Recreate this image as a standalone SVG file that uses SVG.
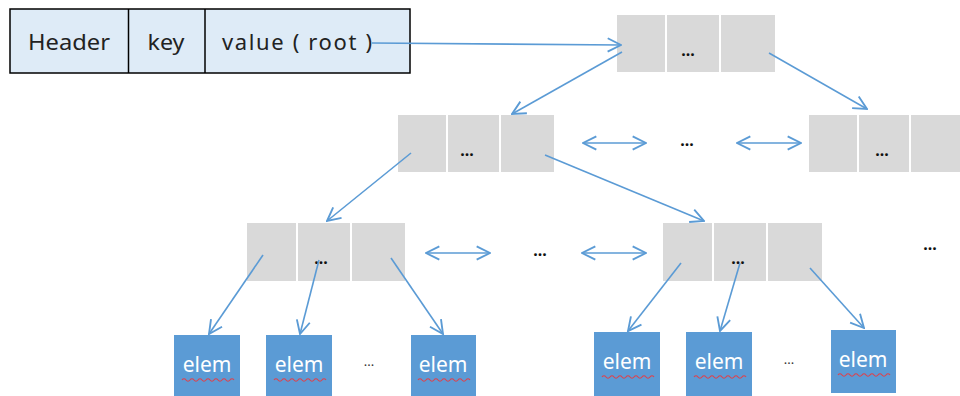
<svg xmlns="http://www.w3.org/2000/svg" width="960" height="396" viewBox="0 0 960 396">
  <style>
    .hdr { fill: #DEEBF7; stroke: #000; stroke-width: 1.5; }
    .hdr-div { stroke: #000; stroke-width: 1.5; }
    .cell { fill: #D9D9D9; }
    .div { stroke: #fff; stroke-width: 2; }
    .elem { fill: #5B9BD5; }
    .t { font-family: "Noto Sans", "Open Sans", sans-serif; font-size: 22px; fill: #222; text-anchor: middle; }
    .dots { font-family: "Noto Sans", sans-serif; font-size: 16px; font-weight: bold; fill: #111; text-anchor: middle; }
    .dots-s { font-family: "Noto Sans", sans-serif; font-size: 13px; fill: #333; text-anchor: middle; }
    .et { font-family: "Noto Sans", sans-serif; font-size: 21px; fill: #fff; text-anchor: middle; }
    .squig { fill: none; stroke: #E0404A; stroke-width: 1.2; }
    .link { fill: none; stroke: #5B9BD5; stroke-width: 1.6; }
  </style>
  <defs>
    <marker id="arr" viewBox="0 0 12 12" refX="11" refY="6" markerWidth="16" markerHeight="16" markerUnits="userSpaceOnUse" orient="auto-start-reverse">
      <path d="M1,1 L11,6 L1,11" fill="none" stroke="#5B9BD5" stroke-width="1.4"/>
    </marker>
    <path id="wave" d="M0,0 q2,-2.5 4,0 t4,0 t4,0 t4,0 t4,0 t4,0 t4,0 t4,0 t4,0 t4,0 t4,0 t4,0 t4,0"/>
  </defs>

  <!-- header record -->
  <g id="header">
    <rect class="hdr" x="10" y="9" width="400" height="64"/>
    <line class="hdr-div" x1="128.5" y1="9" x2="128.5" y2="73"/>
    <line class="hdr-div" x1="205" y1="9" x2="205" y2="73"/>
    <text class="t" x="69" y="50" textLength="82" lengthAdjust="spacingAndGlyphs">Header</text>
    <text class="t" x="166" y="50" textLength="37" lengthAdjust="spacingAndGlyphs">key</text>
    <text class="t" x="297" y="50" textLength="150" lengthAdjust="spacing">value ( root )</text>
  </g>

  <!-- root node -->
  <g id="root">
    <rect class="cell" x="617" y="15" width="158" height="57"/>
    <line class="div" x1="666" y1="15" x2="666" y2="72"/>
    <line class="div" x1="720" y1="15" x2="720" y2="72"/>
    <text class="dots" x="688" y="56">...</text>
  </g>

  <!-- level 2 -->
  <g id="n2a">
    <rect class="cell" x="398" y="115" width="156" height="57"/>
    <line class="div" x1="447" y1="115" x2="447" y2="172"/>
    <line class="div" x1="500" y1="115" x2="500" y2="172"/>
    <text class="dots" x="467" y="156">...</text>
  </g>
  <g id="n2b">
    <rect class="cell" x="809" y="115" width="160" height="57"/>
    <line class="div" x1="858" y1="115" x2="858" y2="172"/>
    <line class="div" x1="910" y1="115" x2="910" y2="172"/>
    <text class="dots" x="882" y="156">...</text>
  </g>
  <text class="dots" x="687" y="146">...</text>

  <!-- level 3 -->
  <g id="n3a">
    <rect class="cell" x="247" y="223" width="158" height="58"/>
    <line class="div" x1="297" y1="223" x2="297" y2="281"/>
    <line class="div" x1="351" y1="223" x2="351" y2="281"/>
    <text class="dots" x="321" y="264">...</text>
  </g>
  <g id="n3b">
    <rect class="cell" x="663" y="223" width="159" height="58"/>
    <line class="div" x1="713" y1="223" x2="713" y2="281"/>
    <line class="div" x1="767" y1="223" x2="767" y2="281"/>
    <text class="dots" x="738" y="264">...</text>
  </g>
  <text class="dots" x="540" y="256">...</text>
  <text class="dots" x="930" y="250">...</text>

  <!-- leaf elements -->
  <g id="e1">
    <rect class="elem" x="174" y="335" width="66" height="61"/>
    <text class="et" x="207" y="372">elem</text>
    <use href="#wave" class="squig" x="182" y="380"/>
  </g>
  <g id="e2">
    <rect class="elem" x="266" y="335" width="66" height="61"/>
    <text class="et" x="299" y="372">elem</text>
    <use href="#wave" class="squig" x="274" y="380"/>
  </g>
  <text class="dots-s" x="369" y="366">...</text>
  <g id="e3">
    <rect class="elem" x="411" y="335" width="65" height="61"/>
    <text class="et" x="443" y="372">elem</text>
    <use href="#wave" class="squig" x="418" y="380"/>
  </g>
  <g id="e4">
    <rect class="elem" x="594" y="332" width="66" height="64"/>
    <text class="et" x="627" y="369">elem</text>
    <use href="#wave" class="squig" x="602" y="377"/>
  </g>
  <g id="e5">
    <rect class="elem" x="686" y="332" width="66" height="64"/>
    <text class="et" x="719" y="369">elem</text>
    <use href="#wave" class="squig" x="694" y="377"/>
  </g>
  <text class="dots-s" x="789" y="364">...</text>
  <g id="e6">
    <rect class="elem" x="831" y="330" width="65" height="63"/>
    <text class="et" x="863" y="367">elem</text>
    <use href="#wave" class="squig" x="838" y="375"/>
  </g>

  <!-- connectors -->
  <g id="links">
    <line class="link" x1="372" y1="43" x2="621" y2="45" marker-end="url(#arr)"/>
    <line class="link" x1="622" y1="52" x2="512" y2="114" marker-end="url(#arr)"/>
    <line class="link" x1="769" y1="53" x2="867" y2="109" marker-end="url(#arr)"/>
    <line class="link" x1="583" y1="143" x2="646" y2="143" marker-start="url(#arr)" marker-end="url(#arr)"/>
    <line class="link" x1="737" y1="143" x2="801" y2="143" marker-start="url(#arr)" marker-end="url(#arr)"/>
    <line class="link" x1="411" y1="153" x2="327" y2="221" marker-end="url(#arr)"/>
    <line class="link" x1="545" y1="155" x2="704" y2="221" marker-end="url(#arr)"/>
    <line class="link" x1="426" y1="253" x2="490" y2="253" marker-start="url(#arr)" marker-end="url(#arr)"/>
    <line class="link" x1="582" y1="253" x2="646" y2="253" marker-start="url(#arr)" marker-end="url(#arr)"/>
    <line class="link" x1="263" y1="255" x2="209" y2="334" marker-end="url(#arr)"/>
    <line class="link" x1="319" y1="260" x2="300" y2="334" marker-end="url(#arr)"/>
    <line class="link" x1="391" y1="258" x2="443" y2="334" marker-end="url(#arr)"/>
    <line class="link" x1="681" y1="263" x2="628" y2="331" marker-end="url(#arr)"/>
    <line class="link" x1="740" y1="263" x2="720" y2="331" marker-end="url(#arr)"/>
    <line class="link" x1="810" y1="268" x2="864" y2="328" marker-end="url(#arr)"/>
  </g>
</svg>
